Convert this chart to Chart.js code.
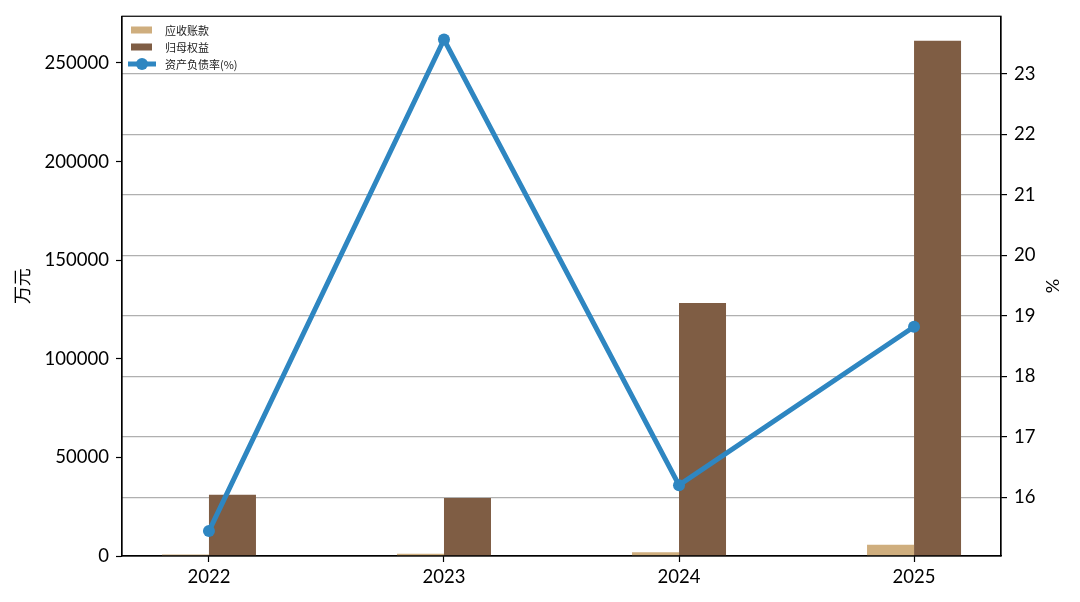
<!DOCTYPE html>
<html>
<head>
<meta charset="utf-8">
<script src="https://cdn.jsdelivr.net/npm/chart.js@4.4.0/dist/chart.umd.min.js"></script>
<style>
html,body{margin:0;padding:0;background:#fff;}
#wrap{width:1080px;height:602px;position:relative;}
</style>
</head>
<body>
<div id="wrap"><canvas id="c" width="1080" height="602"></canvas></div>
<script>
const categories = ['2022', '2023', '2024', '2025'];
const receivables = [700, 1200, 1900, 5750];
const equity = [31000, 29400, 128300, 261300];
const debtRatio = [15.44, 23.57, 16.20, 18.82];
const leftTicks = [0, 50000, 100000, 150000, 200000, 250000];
const rightTicks = [16, 17, 18, 19, 20, 21, 22, 23];
const seriesNames = ['应收账款', '归母权益', '资产负债率(%)'];
const leftTitle = '万元';
const rightTitle = '%';

const FONT = "Lato, 'Noto Sans CJK SC', sans-serif";
const TAN = '#CFAE7E';
const BROWN = '#7F5D44';
const BLUE = '#2E86C1';

const frame = {
  id: 'frame',
  afterDatasetsDraw(chart) {
    const {ctx, chartArea: a} = chart;
    ctx.save();
    ctx.strokeStyle = '#000';
    ctx.lineWidth = 1.2;
    ctx.strokeRect(a.left, a.top, a.right - a.left, a.bottom - a.top);
    ctx.restore();
  },
  afterDraw(chart) {
    const {ctx, chartArea: a} = chart;
    ctx.save();
    ctx.fillStyle = '#000';
    ctx.textAlign = 'center';
    ctx.textBaseline = 'middle';
    ctx.font = "18px 'Noto Sans CJK SC', sans-serif";
    ctx.save(); ctx.translate(22, (a.top + a.bottom) / 2); ctx.rotate(-Math.PI / 2); ctx.fillText(leftTitle, 0, 0); ctx.restore();
    ctx.font = "18px Lato, sans-serif";
    ctx.save(); ctx.translate(1053, (a.top + a.bottom) / 2); ctx.rotate(-Math.PI / 2); ctx.fillText(rightTitle, 0, 0); ctx.restore();
    const x0 = 131, rows = [30, 47, 64];
    ctx.textAlign = 'left';
    ctx.font = "11px 'Noto Sans CJK SC', sans-serif";
    ctx.fillStyle = TAN; ctx.fillRect(x0, rows[0] - 3.5, 21, 7);
    ctx.fillStyle = BROWN; ctx.fillRect(x0, rows[1] - 3.5, 21, 7);
    ctx.strokeStyle = BLUE; ctx.lineWidth = 5;
    ctx.beginPath(); ctx.moveTo(128, rows[2]); ctx.lineTo(156, rows[2]); ctx.stroke();
    ctx.fillStyle = BLUE; ctx.beginPath(); ctx.arc(142, rows[2], 6, 0, Math.PI * 2); ctx.fill();
    ctx.fillStyle = '#222';
    seriesNames.forEach((n, i) => ctx.fillText(n, 165, rows[i] + 1));
    ctx.restore();
  }
};

new Chart(document.getElementById('c'), {
  type: 'bar',
  data: {
    datasets: [
      { type: 'bar', label: seriesNames[0], data: receivables.map((v, i) => ({x: i, y: v})),
        backgroundColor: TAN, yAxisID: 'y', order: 2, categoryPercentage: 0.4, barPercentage: 1.0 },
      { type: 'bar', label: seriesNames[1], data: equity.map((v, i) => ({x: i, y: v})),
        backgroundColor: BROWN, yAxisID: 'y', order: 2, categoryPercentage: 0.4, barPercentage: 1.0 },
      { type: 'line', label: seriesNames[2], data: debtRatio.map((v, i) => ({x: i, y: v})),
        borderColor: BLUE, backgroundColor: BLUE, borderWidth: 5, pointRadius: 6,
        pointBackgroundColor: BLUE, pointBorderWidth: 0, yAxisID: 'y1', order: 0, tension: 0 }
    ]
  },
  options: {
    responsive: false,
    animation: false,
    devicePixelRatio: 1,
    layout: { padding: { top: 13, left: 0, right: 0, bottom: 0 } },
    plugins: { legend: { display: false }, tooltip: { enabled: false } },
    scales: {
      x: {
        type: 'linear', min: -0.37, max: 3.37, offset: false,
        afterBuildTicks(ax) { ax.ticks = categories.map((c, i) => ({value: i})); },
        afterFit(ax) { ax.height = 46; },
        ticks: { callback: (v) => categories[v], color: '#000', font: { family: FONT, size: 18.5 }, padding: 4, maxRotation: 0, autoSkip: false },
        grid: { offset: false, drawOnChartArea: false, tickColor: '#000', tickLength: 6, tickWidth: 1.2 },
        border: { color: '#000', width: 1.2 }
      },
      y: {
        position: 'left', min: 0, max: 273700,
        afterBuildTicks(ax) { ax.ticks = leftTicks.map(v => ({value: v})); },
        afterFit(ax) { ax.width = 122; },
        ticks: { color: '#000', font: { family: FONT, size: 18.5, lineHeight: 1 }, padding: 7, callback: v => String(v) },
        grid: { drawOnChartArea: false, tickColor: '#000', tickLength: 6, tickWidth: 1.2 },
        border: { color: '#000', width: 1.2 }
      },
      y1: {
        position: 'right', min: 15.028, max: 23.955,
        afterBuildTicks(ax) { ax.ticks = rightTicks.map(v => ({value: v})); },
        afterFit(ax) { ax.width = 79; },
        ticks: { color: '#000', font: { family: FONT, size: 18.5, lineHeight: 1 }, padding: 7, callback: v => String(v) },
        grid: { drawOnChartArea: true, color: '#b0b0b0', lineWidth: 1.2, tickColor: '#000', tickLength: 6, tickWidth: 1.2 },
        border: { color: '#000', width: 1.2 }
      }
    }
  },
  plugins: [frame]
});
</script>
</body>
</html>
